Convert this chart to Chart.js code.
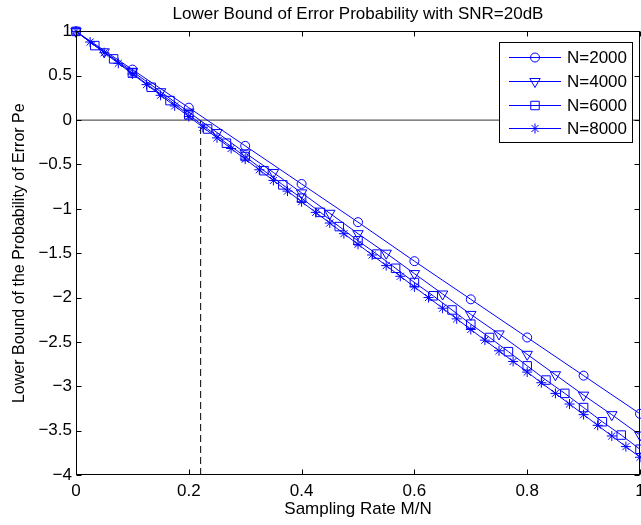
<!DOCTYPE html>
<html>
<head>
<meta charset="utf-8">
<script src="https://cdn.jsdelivr.net/npm/chart.js@4.4.1/dist/chart.umd.min.js"></script>
<style>
  html, body { margin: 0; padding: 0; background: #fff; }
  #c { display: block; }
</style>
</head>
<body>
<canvas id="c" width="641" height="525"></canvas>
<script>
// sampling rates M/N (one marker per M step of 200)
const rate2000 = [0, 0.1, 0.2, 0.3, 0.4, 0.5, 0.6, 0.7, 0.8, 0.9, 1];
const rate4000 = [0, 0.05, 0.1, 0.15, 0.2, 0.25, 0.3, 0.35, 0.4, 0.45, 0.5,
                  0.55, 0.6, 0.65, 0.7, 0.75, 0.8, 0.85, 0.9, 0.95, 1];
const rate6000 = [0, 0.0333, 0.0667, 0.1, 0.1333, 0.1667, 0.2, 0.2333, 0.2667, 0.3, 0.3333,
                  0.3667, 0.4, 0.4333, 0.4667, 0.5, 0.5333, 0.5667, 0.6, 0.6333, 0.6667,
                  0.7, 0.7333, 0.7667, 0.8, 0.8333, 0.8667, 0.9, 0.9333, 0.9667, 1];
const rate8000 = [0, 0.025, 0.05, 0.075, 0.1, 0.125, 0.15, 0.175, 0.2, 0.225, 0.25,
                  0.275, 0.3, 0.325, 0.35, 0.375, 0.4, 0.425, 0.45, 0.475, 0.5,
                  0.525, 0.55, 0.575, 0.6, 0.625, 0.65, 0.675, 0.7, 0.725, 0.75,
                  0.775, 0.8, 0.825, 0.85, 0.875, 0.9, 0.925, 0.95, 0.975, 1];

// lower bound of Pe
const pe2000 = [1, 0.57, 0.14, -0.29, -0.72, -1.15, -1.59, -2.02, -2.45, -2.88, -3.31];
const pe4000 = [1, 0.77, 0.55, 0.32, 0.09, -0.14, -0.37, -0.59, -0.82, -1.05, -1.28,
                -1.5, -1.73, -1.96, -2.19, -2.41, -2.64, -2.87, -3.1, -3.32, -3.55];
const pe6000 = [1, 0.84, 0.69, 0.53, 0.37, 0.22, 0.06, -0.1, -0.26, -0.41, -0.57,
                -0.73, -0.88, -1.04, -1.2, -1.36, -1.51, -1.67, -1.83, -1.98, -2.14,
                -2.3, -2.45, -2.61, -2.77, -2.93, -3.08, -3.24, -3.4, -3.55, -3.71];
const pe8000 = [1, 0.88, 0.76, 0.64, 0.52, 0.4, 0.28, 0.16, 0.04, -0.08, -0.2,
                -0.32, -0.44, -0.56, -0.68, -0.8, -0.92, -1.04, -1.16, -1.28, -1.4,
                -1.52, -1.64, -1.76, -1.88, -2, -2.12, -2.24, -2.36, -2.48, -2.6,
                -2.72, -2.84, -2.96, -3.08, -3.2, -3.32, -3.44, -3.56, -3.68, -3.8];

const seriesNames = ['N=2000', 'N=4000', 'N=6000', 'N=8000'];
const zeroX = [0, 1], zeroY = [0, 0];
const cutX = [0.221, 0.221], cutY = [-4, 0];

const FONT = '"Liberation Sans", Arial, Helvetica, sans-serif';
const BLUE = '#0000ff';

function pts(xs, ys) {
  return xs.map((x, i) => ({ x: x, y: ys[i] }));
}
function fmt(v) {
  const r = Math.round(v * 10) / 10;
  return (r < 0 ? '\u2212' : '') + String(Math.abs(r));
}

function series(label, xs, ys, style, radius, rot) {
  return {
    label: label,
    data: pts(xs, ys),
    borderColor: BLUE,
    borderWidth: 1,
    backgroundColor: 'rgba(0,0,0,0)',
    pointStyle: style,
    pointRadius: radius,
    pointRotation: rot || 0,
    pointBorderColor: BLUE,
    pointBorderWidth: 1,
    pointBackgroundColor: 'rgba(0,0,0,0)',
    tension: 0,
    clip: 10
  };
}

// box + inward ticks on all four sides, like a matlab axes
const frame = {
  id: 'frame',
  afterDatasetsDraw(chart) {
    const { ctx, chartArea: a, scales } = chart;
    const L = Math.round(a.left) + 0.5, R = Math.round(a.right) - 0.5;
    const T = Math.round(a.top) + 0.5, B = Math.round(a.bottom) - 0.5;
    ctx.save();
    ctx.strokeStyle = '#000';
    ctx.lineWidth = 1;
    ctx.strokeRect(L, T, R - L, B - T);
    ctx.beginPath();
    scales.x.ticks.forEach(t => {
      const px = Math.round(scales.x.getPixelForValue(t.value)) + 0.5;
      ctx.moveTo(px, B); ctx.lineTo(px, B - 5);
      ctx.moveTo(px, T); ctx.lineTo(px, T + 5);
    });
    scales.y.ticks.forEach(t => {
      const py = Math.round(scales.y.getPixelForValue(t.value)) + 0.5;
      ctx.moveTo(L, py); ctx.lineTo(L + 5, py);
      ctx.moveTo(R, py); ctx.lineTo(R - 5, py);
    });
    ctx.stroke();
    ctx.restore();
  },
  afterDraw(chart) {
    const ctx = chart.ctx;
    ctx.save();
    ctx.fillStyle = '#fff';
    ctx.fillRect(499, 42, 134, 101);
    ctx.strokeStyle = '#000';
    ctx.lineWidth = 1;
    ctx.strokeRect(499.5, 42.5, 133, 100);
    ctx.font = '17px ' + FONT;
    ctx.textBaseline = 'middle';
    ctx.textAlign = 'left';
    for (let i = 0; i < seriesNames.length; i++) {
      const ds = chart.data.datasets[i];
      const y = Math.round(57 + i * 23.8) + 0.5;
      ctx.strokeStyle = BLUE;
      ctx.lineWidth = 1;
      ctx.beginPath();
      ctx.moveTo(509, y); ctx.lineTo(561, y);
      ctx.stroke();
      ctx.fillStyle = 'rgba(0,0,0,0)';
      Chart.helpers.drawPoint(ctx, {
        pointStyle: ds.pointStyle, radius: ds.pointRadius,
        rotation: ds.pointRotation, borderWidth: 1
      }, 535, y);
      ctx.fillStyle = '#000';
      ctx.fillText(ds.label, 567, y + 1);
    }
    ctx.restore();
  }
};

new Chart(document.getElementById('c'), {
  type: 'line',
  data: {
    datasets: [
      series(seriesNames[0], rate2000, pe2000, 'circle', 4.5),
      series(seriesNames[1], rate4000, pe4000, 'triangle', 6, 180),
      series(seriesNames[2], rate6000, pe6000, 'rect', 6),
      series(seriesNames[3], rate8000, pe8000, 'star', 5),
      {
        label: 'zero', data: pts(zeroX, zeroY), borderColor: '#333', borderWidth: 1,
        pointRadius: 0, tension: 0
      },
      {
        label: 'cut', data: pts(cutX, cutY), borderColor: '#000', borderWidth: 1,
        borderDash: [7, 4], pointRadius: 0, tension: 0
      }
    ]
  },
  options: {
    responsive: false,
    animation: false,
    devicePixelRatio: 1,
    layout: { autoPadding: false, padding: { left: 0, right: 1, top: 0, bottom: 0 } },
    plugins: {
      legend: { display: false },
      tooltip: { enabled: false },
      title: {
        display: true,
        fullSize: false,
        text: 'Lower Bound of Error Probability with SNR=20dB',
        color: '#000',
        font: { family: FONT, size: 17, weight: 'normal' },
        padding: { top: 4, bottom: 7 }
      }
    },
    scales: {
      x: {
        type: 'linear',
        min: 0, max: 1,
        grid: { display: false, drawTicks: false },
        border: { display: false },
        ticks: {
          stepSize: 0.2, color: '#000', padding: 6, maxRotation: 0,
          font: { family: FONT, size: 17 },
          callback: v => fmt(v)
        },
        title: {
          display: true, text: 'Sampling Rate M/N', color: '#000',
          font: { family: FONT, size: 17 },
          padding: { top: 0, bottom: 5 }
        },
        afterFit: s => { s.height = 50; s.paddingLeft = 0; s.paddingRight = 0; }
      },
      y: {
        min: -4, max: 1,
        grid: { display: false, drawTicks: false },
        border: { display: false },
        ticks: {
          stepSize: 0.5, color: '#000', padding: 4,
          font: { family: FONT, size: 17 },
          callback: v => fmt(v)
        },
        title: {
          display: true, text: 'Lower Bound of the Probability of Error Pe', color: '#000',
          font: { family: FONT, size: 16 },
          padding: { top: 10, bottom: 0 }
        },
        afterFit: s => { s.width = 76; s.paddingTop = 0; s.paddingBottom = 0; }
      }
    }
  },
  plugins: [frame]
});
</script>
</body>
</html>
